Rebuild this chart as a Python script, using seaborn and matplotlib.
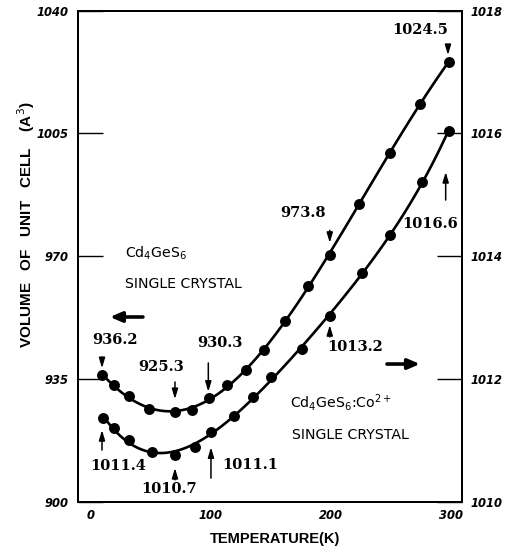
import numpy as np
import pandas as pd
import matplotlib
matplotlib.use("Agg")
import matplotlib.pyplot as plt
import seaborn as sns

# ---------------- data ----------------
T_pure = [9, 19, 32, 48, 70, 84, 98, 113, 129, 144, 162, 181, 199, 223, 249, 274, 298]
V_pure = [936.3, 933.3, 930.1, 926.6, 925.7, 926.2, 929.5, 933.4, 937.5, 943.2,
          951.5, 961.6, 970.4, 984.9, 999.3, 1013.3, 1025.3]

T_co = [10, 19, 32, 51, 70, 87, 100, 119, 135, 150, 176, 199, 226, 249, 276, 298]
V_co = [1011.37, 1011.20, 1011.01, 1010.82, 1010.77, 1010.90, 1011.14, 1011.40, 1011.71,
        1012.04, 1012.49, 1013.03, 1013.73, 1014.34, 1015.21, 1016.04]

x_ticks = [0, 100, 200, 300]
left_ticks = [900, 935, 970, 1005, 1040]
right_ticks = [1010, 1012, 1014, 1016, 1018]

pure_df = pd.DataFrame({"T": T_pure, "V": V_pure})
co_df = pd.DataFrame({"T": T_co, "V": V_co})

sns.set_style("white")
plt.rcParams["font.family"] = ["DejaVu Sans"]
plt.rcParams["mathtext.fontset"] = "dejavusans"
for k in ("text.color", "axes.labelcolor", "xtick.color", "ytick.color", "axes.edgecolor"):
    plt.rcParams[k] = "black"

fig = plt.figure(figsize=(5.05, 5.5), dpi=100)
ax = fig.add_axes([78 / 505, 1 - 502 / 550, (462 - 78) / 505, (502 - 10.5) / 550])
ax2 = ax.twinx()

line_kw = dict(color="black", lw=1.9)
sc_kw = dict(color="black", s=62, edgecolor="black", linewidths=0, alpha=1)

sns.regplot(data=pure_df, x="T", y="V", order=5, ci=None, ax=ax,
            scatter_kws=sc_kw, line_kws=line_kw)
sns.regplot(data=co_df, x="T", y="V", order=5, ci=None, ax=ax2,
            scatter_kws=sc_kw, line_kws=line_kw)

ax.set_xlim(-10.8, 309.2)
ax.set_ylim(900, 1040)
ax2.set_ylim(1010, 1018)
ax.set_xticks(x_ticks)
ax.set_yticks(left_ticks)
ax2.set_yticks(right_ticks)
ax.set_xticklabels([str(v) for v in x_ticks])
ax.set_yticklabels([str(v) for v in left_ticks])
ax2.set_yticklabels([str(v) for v in right_ticks])
ax.set_xlabel("")
ax.set_ylabel("")
ax2.set_ylabel("")

for lab in ax.get_xticklabels() + ax.get_yticklabels() + ax2.get_yticklabels():
    lab.set_fontsize(8.3)
    lab.set_fontstyle("italic")
    lab.set_fontweight("bold")
    lab.set_color("black")

ax.tick_params(axis="both", direction="in", length=18, width=1.0, color="black",
               top=False, right=False)
ax.tick_params(axis="y", pad=7)
ax.tick_params(axis="x", pad=5)
ax2.tick_params(axis="y", direction="in", length=18, width=1.0, color="black",
                right=True, left=False, pad=6)
for a in (ax, ax2):
    for s in a.spines.values():
        s.set_visible(True)
        s.set_linewidth(1.4)
        s.set_color("black")

# ---------------- annotations ----------------
num_font = dict(family="DejaVu Serif", fontweight="bold", fontsize=10.5,
                ha="center", va="center", color="black")
labels = [
    ("936.2", 20, 946.1), ("925.3", 58.75, 938.4), ("930.3", 107.5, 945.3),
    ("973.8", 176.7, 982.3), ("1024.5", 274.2, 1034.4), ("1016.6", 282.5, 979.2),
    ("1013.2", 220, 944.1), ("1011.4", 22.9, 910.2), ("1010.7", 65, 903.7),
    ("1011.1", 132.5, 910.5),
]
for txt, xx, yy in labels:
    ax.text(xx, yy, txt, **num_font)

thin = dict(arrowstyle="-|>,head_length=0.6,head_width=0.18", lw=1.1,
            color="black", shrinkA=0, shrinkB=0)
arrows = [
    (9.2, 941.3, 9.2, 938.1), (70, 934.2, 70, 929.3), (97.8, 939.6, 97.8, 931.4),
    (199, 977.4, 199, 973.8), (297.5, 1030.2, 297.5, 1027.3),
    (295.6, 986.0, 295.6, 994.0), (199, 947.0, 199, 950.4),
    (9.2, 914.8, 9.2, 920.5), (70, 906.3, 70, 909.7), (100, 906.8, 100, 915.6),
]
for x0, y0, x1, y1 in arrows:
    ax.annotate("", xy=(x1, y1), xytext=(x0, y0), arrowprops=thin)

thick = dict(arrowstyle="-|>,head_length=0.7,head_width=0.3", lw=2.6,
             color="black", shrinkA=0, shrinkB=0)
ax.annotate("", xy=(15.8, 952.7), xytext=(43.3, 952.7), arrowprops=thick)
ax.annotate("", xy=(274.2, 939.3), xytext=(246.7, 939.3), arrowprops=thick)

name_font = dict(fontsize=10.2, ha="left", va="center", color="black")
ax.text(28.3, 970.9, r"Cd$_4$GeS$_6$", **name_font)
ax.text(28.3, 962.1, "SINGLE CRYSTAL", **name_font)
ax.text(165.8, 928.2, r"Cd$_4$GeS$_6$:Co$^{2+}$", **name_font)
ax.text(167.5, 919.1, "SINGLE CRYSTAL", **name_font)

fig.text(26.5 / 505, 1 - 225 / 550, "VOLUME   OF   UNIT   CELL    (A$^{3}$)",
         rotation=90, ha="center", va="center", fontsize=11, fontweight="bold",
         family="Liberation Sans", color="black")
fig.text(275 / 505, 1 - 539.5 / 550, "TEMPERATURE(K)", ha="center", va="center",
         fontsize=10.5, fontweight="bold", family="Liberation Sans", color="black")

fig.savefig("out.png", dpi=100)
